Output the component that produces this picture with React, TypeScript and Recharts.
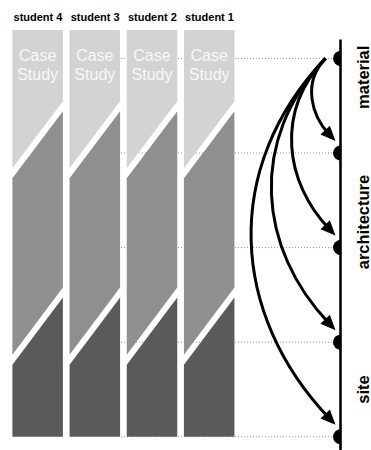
import {
  ComposedChart,
  Bar,
  XAxis,
  YAxis,
  ReferenceLine,
  ReferenceDot,
  LabelList,
} from "recharts";

const FONT = "'Liberation Sans', Arial, Helvetica, sans-serif";

// columns, left to right
const STUDENTS = ["student 4", "student 3", "student 2", "student 1"];
// length of each phase per student, bottom to top, in levels of the right axis
const SITE = [1.17, 1.17, 1.17, 1.17];
const ARCHITECTURE = [1.97, 1.97, 1.97, 1.97];
const MATERIAL = [1.16, 1.16, 1.16, 1.16];
const CASE_LABEL = ["Case Study", "Case Study", "Case Study", "Case Study"];

// right axis
const LEVELS = [0, 1, 2, 3, 4];
const ARROW_FROM = 4;
const ARROW_TO = [3, 2, 1, 0];
const AXIS_LABELS = ["material", "architecture", "site"];
const AXIS_LABEL_LEVELS = [3.8, 2.27, 0.5];

// horizontal positions in column units (column i is centred on i)
const AXIS_X = 5.29;
const GRID_FROM = 1.45;

const COLORS = { site: "#5a5a5a", architecture: "#8f8f8f", material: "#d3d3d3" };

const data = STUDENTS.map((name, i) => ({
  name,
  col: i,
  site: SITE[i],
  architecture: ARCHITECTURE[i],
  material: MATERIAL[i],
  label: CASE_LABEL[i],
}));

const SLANT = 1.33; // vertical drop of a cut per px of column width
const GAP = 10; // white gap between phases (vertical px)

function Slab(props: any) {
  const { x, y, width, height, fill, cutTop, cutBottom } = props;
  const s = (width * SLANT) / 2;
  const g = GAP / 2;
  const tl = cutTop ? y + s + g : y;
  const tr = cutTop ? y - s + g : y;
  const bl = cutBottom ? y + height + s - g : y + height;
  const br = cutBottom ? y + height - s - g : y + height;
  return (
    <path
      d={`M${x},${tl}L${x + width},${tr}L${x + width},${br}L${x},${bl}Z`}
      fill={fill}
    />
  );
}

function CaseLabel(props: any) {
  const vb = props.viewBox || props;
  const { x, y, width } = vb;
  const cx = x + width / 2;
  const words = String(props.value).split(" ");
  return (
    <text
      x={cx}
      y={y + 31}
      textAnchor="middle"
      fill="#f8f8f8"
      fontSize={16}
      fontFamily={FONT}
    >
      {words.map((w, i) => (
        <tspan key={i} x={cx} dy={i === 0 ? 0 : 19}>
          {w}
        </tspan>
      ))}
    </text>
  );
}

function CurvedArrow(props: any) {
  const { x1, y1, x2, y2 } = props;
  const sx = x1 - 15;
  const sy = y1;
  const tx = x2 - 5;
  const ty = y2 - 12;
  const len = ty - sy;
  const d = 1.33 * 0.215 * len;
  const c1x = sx - d;
  const c1y = sy + 0.3 * len;
  const c2x = tx - d;
  const c2y = ty - 0.3 * len;
  let ux = tx - c2x;
  let uy = ty - c2y;
  const n = Math.hypot(ux, uy);
  ux /= n;
  uy /= n;
  const head = 15;
  const half = 6.5;
  const bx = tx - ux * head;
  const by = ty - uy * head;
  const ex = tx - ux * head * 0.6;
  const ey = ty - uy * head * 0.6;
  return (
    <g>
      <path
        d={`M${sx},${sy}C${c1x},${c1y} ${c2x},${c2y} ${ex},${ey}`}
        fill="none"
        stroke="#000"
        strokeWidth={3}
      />
      <path
        d={`M${tx},${ty}L${bx - uy * half},${by + ux * half}L${bx + uy * half},${by - ux * half}Z`}
        fill="#000"
      />
    </g>
  );
}

function HalfDot(props: any) {
  const { cx, cy } = props;
  const r = 7.5;
  return <path d={`M${cx},${cy - r}A${r},${r} 0 0 0 ${cx},${cy + r}Z`} fill="#000" />;
}

export default function App() {
  return (
    <div style={{ position: "absolute", left: 0, top: 0 }}>
      <ComposedChart
        width={371}
        height={450}
        data={data}
        margin={{ top: 0, right: 30.5, bottom: 0, left: 9.4 }}
      >
        <XAxis
          xAxisId="cat"
          dataKey="name"
          orientation="top"
          height={30}
          axisLine={false}
          tickLine={false}
          tickSize={7}
          interval={0}
          padding={{ left: 0, right: 102.4 }}
          tick={{ fontSize: 11, fontWeight: 700, fill: "#000", fontFamily: FONT }}
        />
        <XAxis
          xAxisId="pos"
          dataKey="col"
          type="number"
          domain={[-0.5, AXIS_X]}
          allowDataOverflow
          hide
        />
        <YAxis yAxisId="lvl" orientation="right" type="number" domain={[-0.14, 4.3]} hide />

        {LEVELS.map((l) => (
          <ReferenceLine
            key={`grid-${l}`}
            xAxisId="pos"
            yAxisId="lvl"
            segment={[
              { x: GRID_FROM, y: l },
              { x: AXIS_X, y: l },
            ]}
            stroke="#8c8c8c"
            strokeDasharray="1 2"
            ifOverflow="visible"
            zIndex={-10}
          />
        ))}

        <Bar
          xAxisId="cat"
          yAxisId="lvl"
          dataKey="site"
          stackId="s"
          barSize={50.5}
          fill={COLORS.site}
          shape={(p: any) => <Slab {...p} cutTop cutBottom={false} />}
          isAnimationActive={false}
        />
        <Bar
          xAxisId="cat"
          yAxisId="lvl"
          dataKey="architecture"
          stackId="s"
          barSize={50.5}
          fill={COLORS.architecture}
          shape={(p: any) => <Slab {...p} cutTop cutBottom />}
          isAnimationActive={false}
        />
        <Bar
          xAxisId="cat"
          yAxisId="lvl"
          dataKey="material"
          stackId="s"
          barSize={50.5}
          fill={COLORS.material}
          shape={(p: any) => <Slab {...p} cutTop={false} cutBottom />}
          isAnimationActive={false}
        >
          <LabelList dataKey="label" content={CaseLabel} />
        </Bar>

        <ReferenceLine
          xAxisId="pos"
          yAxisId="lvl"
          segment={[
            { x: AXIS_X, y: 4.2 },
            { x: AXIS_X, y: -0.14 },
          ]}
          stroke="#000"
          strokeWidth={2.6}
          ifOverflow="visible"
        />

        {ARROW_TO.map((t) => (
          <ReferenceLine
            key={`arrow-${t}`}
            xAxisId="pos"
            yAxisId="lvl"
            segment={[
              { x: AXIS_X, y: ARROW_FROM },
              { x: AXIS_X, y: t },
            ]}
            ifOverflow="visible"
            shape={(p: any) => <CurvedArrow {...p} />}
          />
        ))}

        {LEVELS.map((l) => (
          <ReferenceDot
            key={`dot-${l}`}
            xAxisId="pos"
            yAxisId="lvl"
            x={AXIS_X}
            y={l}
            r={7.5}
            ifOverflow="visible"
            shape={(p: any) => <HalfDot {...p} />}
          />
        ))}

        {AXIS_LABELS.map((name, i) => (
          <ReferenceDot
            key={`lab-${name}`}
            xAxisId="pos"
            yAxisId="lvl"
            x={AXIS_X}
            y={AXIS_LABEL_LEVELS[i]}
            r={0}
            ifOverflow="visible"
            shape={(p: any) => (
              <text
                x={p.cx + 29}
                y={p.cy}
                transform={`rotate(-90 ${p.cx + 29} ${p.cy})`}
                textAnchor="middle"
                fontSize={16.5}
                fontWeight={700}
                fontFamily={FONT}
                fill="#000"
              >
                {name}
              </text>
            )}
          />
        ))}
      </ComposedChart>
    </div>
  );
}
